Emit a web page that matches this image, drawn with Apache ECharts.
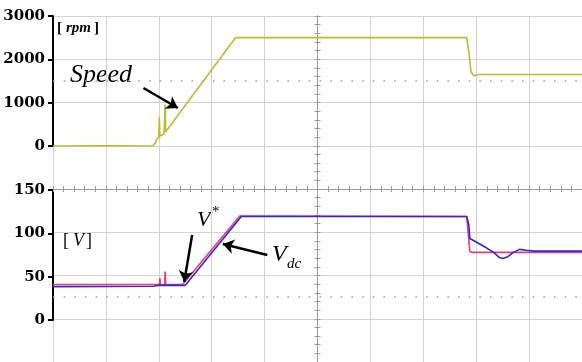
<!DOCTYPE html>
<html>
<head>
<meta charset="utf-8">
<script src="https://cdn.jsdelivr.net/npm/echarts@6/dist/echarts.min.js"></script>
<style>
html, body { margin: 0; padding: 0; background: #fff; }
#chart { width: 582px; height: 362px; }
</style>
</head>
<body>
<div id="chart"></div>
<script>
// time is in scope divisions (0..10)
const speedTime = [0, 1.0, 1.88, 1.93, 1.96, 2.0, 2.01, 2.02, 2.1, 2.12, 2.13, 3.45, 7.82, 7.87, 7.9, 7.95, 8.05, 10]
const speedRpm = [0, 5, 0, 60, 160, 200, 670, 230, 280, 960, 330, 2500, 2500, 2100, 1720, 1620, 1650, 1650]

const vRefTime = [0, 1.85, 2.01, 2.02, 2.03, 2.11, 2.12, 2.13, 2.45, 3.53, 7.82, 7.88, 7.92, 10]
const vRefVolt = [41, 41, 41, 48, 41, 41, 56, 41, 41, 120, 119.5, 79, 78, 78]

const vdcTime = [0, 1.9, 2.0, 2.5, 3.56, 7.82, 7.86, 7.88, 8.0, 8.2, 8.33, 8.44, 8.5, 8.6, 8.7, 8.82, 8.95, 9.1, 10]
const vdcVolt = [38.5, 39, 40, 40, 119.5, 119.5, 110, 94, 90, 83, 78, 72, 71, 73, 78, 81.5, 80.5, 79.5, 79.5]

const speedTicks = [0, 3000, 1000]
const voltTicks = [0, 150, 50]

const zip = (a, b) => a.map((e, i) => [e, b[i]])

const gridColor = '#d3d3d3'
const centerColor = '#9a9a9a'
const labelFont = {
  fontFamily: 'DejaVu Serif', fontWeight: 'bold', fontSize: 15, color: '#000', margin: 8,
  formatter: v => String(v)
}

const leftAxis = (ticks, grid) => ({
  type: 'value', gridIndex: grid, min: ticks[0], max: ticks[1], interval: ticks[2],
  axisLine: { show: true, lineStyle: { color: '#000', width: 2 } },
  axisTick: { show: true, length: 5, lineStyle: { color: '#000', width: 2 } },
  axisLabel: labelFont,
  splitLine: { show: false }
})
const hiddenX = grid => ({ type: 'value', gridIndex: grid, min: 0, max: 10, show: false })

// scope graticule, center cross with ticks on both sides
const centerX = (grid, inside, split) => ({
  type: 'value', gridIndex: grid, min: -5, max: 5, interval: 1,
  axisLine: { show: true, onZero: true, lineStyle: { color: centerColor, width: 1 } },
  axisTick: { show: true, inside: inside, length: 3, lineStyle: { color: centerColor } },
  minorTick: { show: true, splitNumber: 5, length: 3, lineStyle: { color: centerColor } },
  axisLabel: { show: false },
  splitLine: { show: split, lineStyle: { color: gridColor, width: 1 } }
})
const centerY = (grid, inside, split) => ({
  type: 'value', gridIndex: grid, min: -4, max: 4, interval: 1,
  axisLine: { show: true, onZero: true, lineStyle: { color: centerColor, width: 1 } },
  axisTick: { show: true, inside: inside, length: 3, lineStyle: { color: centerColor } },
  minorTick: { show: true, splitNumber: 5, length: 3, lineStyle: { color: centerColor } },
  axisLabel: { show: false },
  splitLine: { show: split, lineStyle: { color: gridColor, width: 1 } }
})

const arrow = (from, to) => ({
  silent: true,
  symbol: ['none', 'arrow'],
  symbolSize: 11,
  label: { show: false },
  lineStyle: { color: '#000', width: 2.5, type: 'solid' },
  data: [[{ coord: from }, { coord: to }]]
})

const serif = '"Liberation Serif"'
const txt = (x, y, text, font) => ({ type: 'text', left: x, top: y, style: { text: text, font: font, fill: '#000' } })

let mycharts = echarts.init(document.getElementById('chart'), null, { renderer: 'canvas' })
mycharts.setOption({
  animation: false,
  grid: [
    { left: 53, top: 16, width: 533, height: 130 },
    { left: 53, top: 190, width: 533, height: 130 },
    { left: 53, top: 16, width: 533, height: 347 },
    { left: 53, top: 16, width: 533, height: 347 }
  ],
  xAxis: [hiddenX(0), hiddenX(1), centerX(2, true, true), centerX(3, false, false)],
  yAxis: [leftAxis(speedTicks, 0), leftAxis(voltTicks, 1), centerY(2, true, true), centerY(3, false, false)],
  graphic: [
    txt(70, 62, 'Speed', 'italic 26px ' + serif),
    txt(57, 21, '[', 'bold 15px ' + serif),
    txt(66, 21, 'rpm', 'italic bold 15px ' + serif),
    txt(94, 21, ']', 'bold 15px ' + serif),
    txt(63, 232, '[', '18px ' + serif),
    txt(73, 232, 'V', 'italic 18px ' + serif),
    txt(86, 232, ']', '18px ' + serif),
    txt(197, 209, 'V', 'italic 22px ' + serif),
    txt(212, 205, '*', '15px ' + serif),
    txt(272, 243, 'V', 'italic 24px ' + serif),
    txt(287, 257, 'dc', 'italic 15px ' + serif)
  ],
  series: [
    {
      type: 'line', xAxisIndex: 2, yAxisIndex: 2, silent: true,
      data: [[-5, 2.5]], showSymbol: false, lineStyle: { opacity: 0 },
      markLine: {
        silent: true, symbol: 'none', label: { show: false },
        lineStyle: { color: '#9a9a9a', width: 1.5, type: [1.5, 9.16] },
        data: [{ yAxis: 2.5 }, { yAxis: -2.5 }]
      }
    },
    {
      name: 'Speed', type: 'line', xAxisIndex: 0, yAxisIndex: 0,
      data: zip(speedTime, speedRpm), showSymbol: false,
      lineStyle: { color: '#b9bc2c', width: 1.6 },
      markLine: arrow([1.71, 1338], [2.36, 877])
    },
    {
      name: 'V*', type: 'line', xAxisIndex: 1, yAxisIndex: 1,
      data: zip(vRefTime, vRefVolt), showSymbol: false,
      lineStyle: { color: '#ee3a6e', width: 1.6 },
      markLine: arrow([2.63, 98], [2.48, 44])
    },
    {
      name: 'Vdc', type: 'line', xAxisIndex: 1, yAxisIndex: 1,
      data: zip(vdcTime, vdcVolt), showSymbol: false,
      lineStyle: { color: '#2b2bd6', width: 1.6 },
      markLine: arrow([4.05, 75], [3.21, 87.7])
    }
  ]
})
mycharts.resize()
</script>
</body>
</html>
